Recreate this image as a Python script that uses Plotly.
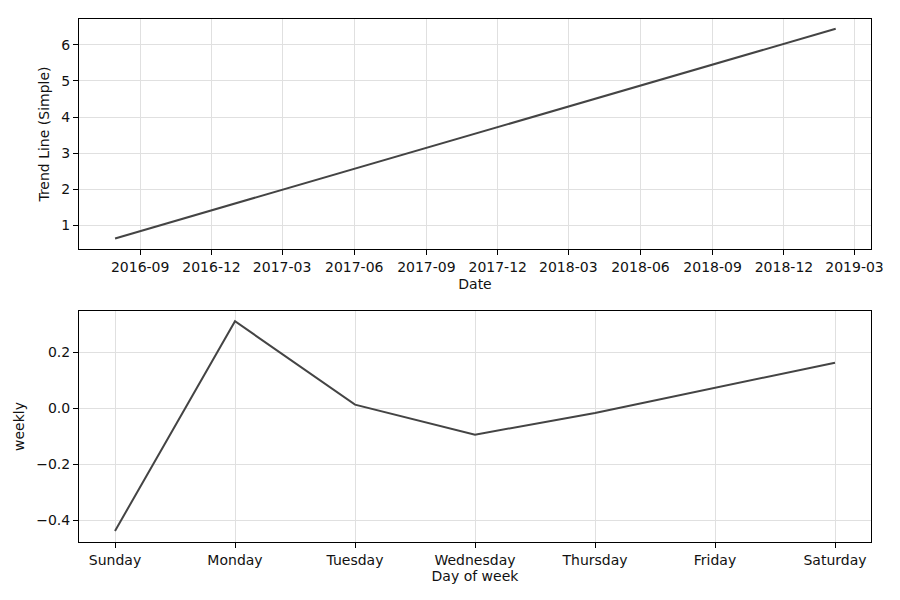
import plotly.graph_objects as go

# Trend component
trend_dates = ["2016-07-31", "2017-06-01", "2018-03-01", "2019-02-05"]
trend_values = [0.63, 2.56, 4.30, 6.45]
date_ticks = ["2016-09-01", "2016-12-01", "2017-03-01", "2017-06-01", "2017-09-01",
              "2017-12-01", "2018-03-01", "2018-06-01", "2018-09-01", "2018-12-01",
              "2019-03-01"]

# Weekly component
days = ["Sunday", "Monday", "Tuesday", "Wednesday", "Thursday", "Friday", "Saturday"]
weekly_values = [-0.438, 0.311, 0.013, -0.094, -0.017, 0.073, 0.163]

LINE = "#444444"
GRID = "#e0e0e0"
FONT = dict(family="DejaVu Sans", size=14, color="#111111")

fig = go.Figure()
fig.add_trace(go.Scatter(x=trend_dates, y=trend_values, mode="lines",
                         line=dict(color=LINE, width=2), xaxis="x", yaxis="y",
                         showlegend=False))
fig.add_trace(go.Scatter(x=days, y=weekly_values, mode="lines",
                         line=dict(color=LINE, width=2), xaxis="x2", yaxis="y2",
                         showlegend=False))

axis_common = dict(showline=True, linecolor="black", linewidth=1, mirror=True,
                   ticks="outside", ticklen=5, tickcolor="black",
                   showgrid=True, gridcolor=GRID, gridwidth=1, zeroline=False,
                   tickfont=FONT, title_font=FONT)

fig.update_layout(
    width=900, height=600,
    margin=dict(l=79, r=29, t=19, b=58),
    plot_bgcolor="white", paper_bgcolor="white",
    font=FONT,
    xaxis=dict(type="date", anchor="y", domain=[0, 1],
               range=["2016-06-15", "2019-03-22"],
               tickvals=date_ticks, tickformat="%Y-%m",
               title=dict(text="Date", standoff=5), **axis_common),
    yaxis=dict(anchor="x", domain=[0.560, 1.0], range=[0.333, 6.72],
               tickvals=[1, 2, 3, 4, 5, 6],
               title=dict(text="Trend Line (Simple)", standoff=8), **axis_common),
    xaxis2=dict(type="category", anchor="y2", domain=[0, 1],
                range=[-0.3, 6.3],
                title=dict(text="Day of week", standoff=4), **axis_common),
    yaxis2=dict(anchor="x2", domain=[0.0, 0.4417], range=[-0.4775, 0.3475],
                tickvals=[-0.4, -0.2, 0.0, 0.2], tickformat=".1f",
                title=dict(text="weekly", standoff=8), **axis_common),
)

fig.write_html("out.html", config={"displayModeBar": False},
               post_script="document.body.style.margin='0';document.body.style.overflow='hidden';")
